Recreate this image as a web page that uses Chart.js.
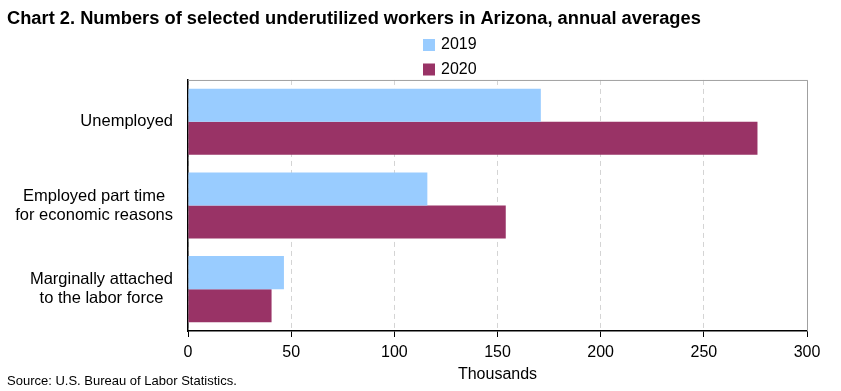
<!DOCTYPE html>
<html>
<head>
<meta charset="utf-8">
<script src="https://cdn.jsdelivr.net/npm/chart.js@4"></script>
<style>
  html, body { margin: 0; padding: 0; background: #fff; }
  #wrap { width: 841px; height: 391px; }
</style>
</head>
<body>
<div id="wrap"><canvas id="chart" width="841" height="391"></canvas></div>
<script>
// categories and values (thousands)
const categories = [
  ['Unemployed'],
  ['Employed part time', 'for economic reasons'],
  ['Marginally attached', 'to the labor force']
];
const years = ['2019', '2020'];
const values2019 = [171, 116, 46.5];
const values2020 = [276, 154, 40.5];
const xTicks = [0, 50, 100, 150, 200, 250, 300];

const colors = ['#99CCFF', '#993366'];
const font = 'Arial, "Liberation Sans", sans-serif';

// legend stacked vertically, frame, category labels (lines centred in a right-aligned block), source note
const extras = {
  id: 'extras',
  afterDraw(chart) {
    const ctx = chart.ctx;
    const area = chart.chartArea;
    ctx.save();
    // grey frame top and right
    ctx.strokeStyle = '#a0a0a0';
    ctx.lineWidth = 1;
    ctx.beginPath();
    ctx.moveTo(area.left, area.top + 0.5);
    ctx.lineTo(area.right + 0.5, area.top + 0.5);
    ctx.lineTo(area.right + 0.5, area.bottom);
    ctx.stroke();

    // category labels
    const yScale = chart.scales.y;
    ctx.font = '16.5px ' + font;
    ctx.fillStyle = '#000';
    ctx.textBaseline = 'middle';
    ctx.textAlign = 'center';
    const right = area.left - 15;
    const lineH = 19;
    chart.data.labels.forEach((lines, i) => {
      const w = Math.max(...lines.map(l => ctx.measureText(l).width));
      const cx = right - w / 2;
      const cy = yScale.getPixelForValue(i);
      lines.forEach((l, j) => {
        ctx.fillText(l, cx, cy + (j - (lines.length - 1) / 2) * lineH);
      });
    });

    // legend
    ctx.textAlign = 'left';
    ctx.font = '16px ' + font;
    chart.data.datasets.forEach((ds, i) => {
      const y = 45 + i * 24.5;
      ctx.fillStyle = ds.backgroundColor;
      ctx.fillRect(423, y - 6, 12, 12);
      ctx.fillStyle = '#000';
      ctx.fillText(ds.label, 441, y);
    });

    // source
    ctx.font = '13px ' + font;
    ctx.fillStyle = '#000';
    ctx.fillText('Source: U.S. Bureau of Labor Statistics.', 7, 381);
    ctx.restore();
  }
};

new Chart(document.getElementById('chart'), {
  type: 'bar',
  data: {
    labels: categories,
    datasets: [
      { label: years[0], data: values2019, backgroundColor: colors[0] },
      { label: years[1], data: values2020, backgroundColor: colors[1] }
    ]
  },
  options: {
    indexAxis: 'y',
    responsive: false,
    animation: false,
    layout: { padding: { left: 7, right: 34, top: 0, bottom: 7 } },
    datasets: { bar: { categoryPercentage: 0.79, barPercentage: 1 } },
    plugins: {
      legend: { display: false },
      tooltip: { enabled: false },
      title: {
        display: true,
        text: 'Chart 2. Numbers of selected underutilized workers in Arizona, annual averages',
        align: 'start',
        color: '#000',
        font: { family: font, size: 18.3, weight: 'bold' },
        padding: { top: 8, bottom: 50 }
      }
    },
    scales: {
      x: {
        min: 0,
        max: 300,
        afterBuildTicks(scale) { scale.ticks = xTicks.map(v => ({ value: v })); },
        afterFit(scale) { scale.height = 53; },
        ticks: { color: '#000', font: { family: font, size: 16 }, padding: 6 },
        grid: {
          color: '#d4d4d4',
          tickColor: '#000',
          tickBorderDash: [],
          tickLength: 6
        },
        border: { color: '#000', width: 1.5, dash: [5, 4] },
        title: {
          display: true,
          text: 'Thousands',
          color: '#000',
          font: { family: font, size: 16 },
          padding: 0
        }
      },
      y: {
        afterFit(scale) { scale.width = 181; },
        ticks: { display: false },
        grid: { display: false },
        border: { color: '#000', width: 1.5 }
      }
    }
  },
  plugins: [extras]
});
</script>
</body>
</html>
